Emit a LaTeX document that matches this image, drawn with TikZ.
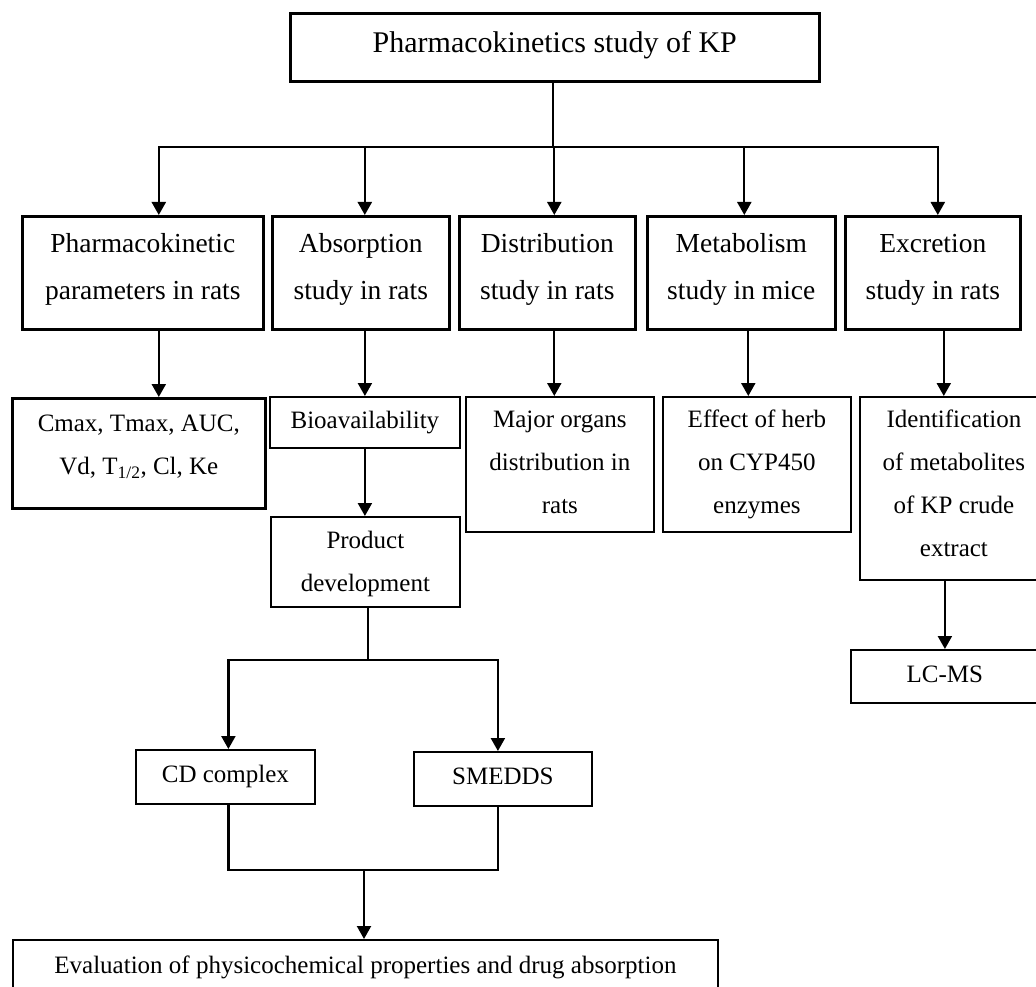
\documentclass[tikz,border=0pt]{standalone}
\usepackage{fontspec}
\setmainfont{Liberation Serif}
\usetikzlibrary{arrows.meta,positioning}

\tikzset{
  cell/.style n args={3}{draw, inner sep=0pt, anchor=north west,
    execute at begin node={\begin{minipage}[t][#2pt][t]{#1pt}\centering\rule{0pt}{#3pt}},
    execute at end node={\end{minipage}}},
  heavy/.style={line width=2.6pt},
  light/.style={line width=1.8pt},
  bigtxt/.style={font=\fontsize{27.5}{47}\selectfont},
  smalltxt/.style={font=\fontsize{25}{43}\selectfont},
  link/.style={line width=2.2pt},
  arr/.style={link, -{Triangle[length=13pt,width=14pt]}},
}

\begin{document}
\begin{tikzpicture}[x=1pt,y=-1pt]
  \useasboundingbox (0,0) rectangle (1036,987);
  \clip (0,0) rectangle (1036,987);

  \node[cell={529}{68}{39}, heavy, font=\fontsize{30}{36}\selectfont] (title) at (289,12) {Pharmacokinetics study of KP};

  % the five studies
  \node[cell={241}{113}{36}, heavy, bigtxt] (pk) at (21,215) {Pharmacokinetic\\parameters in rats};
  \node[cell={177}{113}{36}, heavy, bigtxt] (abs) at (271,215) {Absorption\\study in rats};
  \node[cell={176}{113}{36}, heavy, bigtxt] (dist) at (458,215) {Distribution\\study in rats};
  \node[cell={188}{113}{36}, heavy, bigtxt] (met) at (646,215) {Metabolism\\study in mice};
  \node[cell={175}{113}{36}, heavy, bigtxt] (exc) at (844,215) {Excretion\\study in rats};

  \node[cell={253}{110}{33}, heavy, smalltxt] (params) at (11,397) {Cmax, Tmax, AUC,\\Vd, T\textsubscript{1/2}, Cl, Ke};
  \node[cell={190}{51}{32}, light, smalltxt] (bio) at (269,396) {Bioavailability};
  \node[cell={189}{90}{32}, light, smalltxt] (prod) at (270,516) {Product\\development};
  \node[cell={188}{135}{31}, light, smalltxt] (organs) at (465,396) {Major organs\\distribution in\\rats};
  \node[cell={188}{135}{31}, light, smalltxt] (herb) at (662,396) {Effect of herb\\on CYP450\\enzymes};
  \node[cell={188}{183}{31}, light, smalltxt] (ident) at (859,396) {Identification\\of metabolites\\of KP crude\\extract};
  \node[cell={188}{53}{33}, light, smalltxt] (lcms) at (850,649) {LC-MS};
  \node[cell={179}{54}{33}, light, smalltxt] (cd) at (135,749) {CD complex};
  \node[cell={178}{54}{33}, light, smalltxt] (smedds) at (413,751) {SMEDDS};
  \node[cell={705}{60}{34}, light, smalltxt] (eval) at (12,939) {Evaluation of physicochemical properties and drug absorption};

  % top fan out
  \coordinate (bus) at (553,147);
  \draw[link] (bus |- title.south) -- (bus);
  \foreach \n/\dx in {pk/16, abs/4, dist/7, met/3, exc/5}
    \draw[arr] (bus) -| ([xshift=\dx pt]\n.north);

  \draw[arr] ([xshift=16pt]pk.south) -- ([xshift=16pt]pk.south |- params.north);
  \draw[arr] (bio.north |- abs.south) -- (bio.north);
  \draw[arr] ([xshift=7pt]dist.south) -- ([xshift=7pt]dist.south |- organs.north);
  \draw[arr] ([xshift=7pt]met.south) -- ([xshift=7pt]met.south |- herb.north);
  \draw[arr] ([xshift=11pt]exc.south) -- ([xshift=11pt]exc.south |- ident.north);
  \draw[arr] (bio.south) -- (bio.south |- prod.north);
  \draw[arr] (lcms.north |- ident.south) -- (lcms.north);

  % product branches
  \coordinate (split) at (368,660);
  \draw[link] (split |- prod.south) -- (split);
  \draw[arr] (split) -| ([xshift=3pt]cd.north);
  \draw[arr] (split) -| ([xshift=-5pt]smedds.north);
  \coordinate (merge) at (364,870);
  \draw[heavy] ([xshift=3pt]cd.south) |- (merge) -| ([xshift=-5pt]smedds.south);
  \draw[arr] (merge) -- (merge |- eval.north);
\end{tikzpicture}
\end{document}
